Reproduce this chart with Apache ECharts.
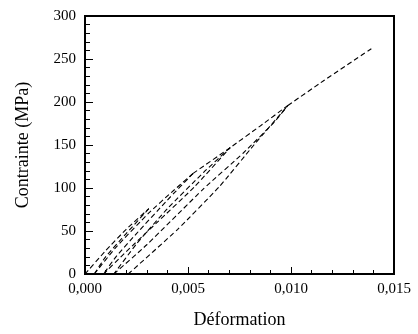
<!DOCTYPE html>
<html><head><meta charset="utf-8">
<script src="https://cdn.jsdelivr.net/npm/echarts@6/dist/echarts.min.js"></script>
<style>html,body{margin:0;padding:0;background:#fff}#c{width:418px;height:334px}</style>
</head><body><div id="c"></div>
<script>
// Branches: [strain, stress MPa]
var load1    = [[0,0],[0.001,27],[0.002,52],[0.0031,76]];
var unload1  = [[0.0031,76],[0.002,47],[0.001,20],[0.00045,0]];
var reload1  = [[0.00045,0],[0.0015,31],[0.0031,71],[0.0042,95],[0.00525,117]];
var unload2  = [[0.00525,117],[0.004,86],[0.0025,47],[0.0015,20],[0.0009,0]];
var reload2  = [[0.0009,0],[0.002,26],[0.0035,60],[0.0053,101],[0.00705,147]];
var unload3  = [[0.00705,147],[0.00575,118],[0.004,76],[0.0025,35],[0.0014,0]];
var reload3  = [[0.0014,0],[0.003,34],[0.00575,99],[0.0077,141],[0.0092,177],[0.00985,196]];
var envelope = [[0.00525,117],[0.00705,147],[0.0085,172],[0.00985,196]];
var cycle4   = [[0.0021,0],[0.0045,52],[0.0065,101],[0.0082,150],[0.00985,196]];
var final    = [[0.00985,196],[0.0116,225],[0.0139,262]];
var branches = [load1, unload1, reload1, unload2, reload2, unload3, reload3, envelope, cycle4, final];
var xTicks = [0, 0.005, 0.010, 0.015];
var yTicks = [0, 50, 100, 150, 200, 250, 300];

var chart = echarts.init(document.getElementById('c'), null, {renderer:'canvas'});
var font = 'Liberation Serif';
chart.setOption({
  animation:false,
  grid:{left:85, right:24, top:16, bottom:59, show:true, borderColor:'#000', borderWidth:2, backgroundColor:'transparent'},
  xAxis:{type:'value', min:xTicks[0], max:xTicks[xTicks.length-1], interval:0.005,
    name:'Déformation', nameLocation:'middle', nameGap:37,
    nameTextStyle:{fontFamily:font, fontSize:18, color:'#000'},
    axisLine:{lineStyle:{color:'#000', width:2}},
    axisTick:{inside:true, length:7, lineStyle:{color:'#000', width:1}},
    minorTick:{show:true, splitNumber:5, length:4, lineStyle:{color:'#000', width:1}},
    splitLine:{show:false},
    axisLabel:{fontFamily:font, fontSize:15, color:'#000', margin:8,
      formatter:function(v){return v.toFixed(3).replace('.',',');}}
  },
  yAxis:{type:'value', min:yTicks[0], max:yTicks[yTicks.length-1], interval:50,
    name:'Contrainte (MPa)', nameLocation:'middle', nameGap:53,
    nameTextStyle:{fontFamily:font, fontSize:18, color:'#000'},
    axisLine:{lineStyle:{color:'#000', width:2}},
    axisTick:{inside:true, length:8, lineStyle:{color:'#000', width:1}},
    minorTick:{show:true, splitNumber:5, length:5, lineStyle:{color:'#000', width:1}},
    splitLine:{show:false},
    axisLabel:{fontFamily:font, fontSize:15, color:'#000', margin:9}
  },
  series: branches.map(function(b){
    return {type:'line', data:b, smooth:0.15, showSymbol:false, symbol:'none',
      lineStyle:{color:'#000', width:1.1, type:[5,3]}};
  })
});
</script></body></html>
